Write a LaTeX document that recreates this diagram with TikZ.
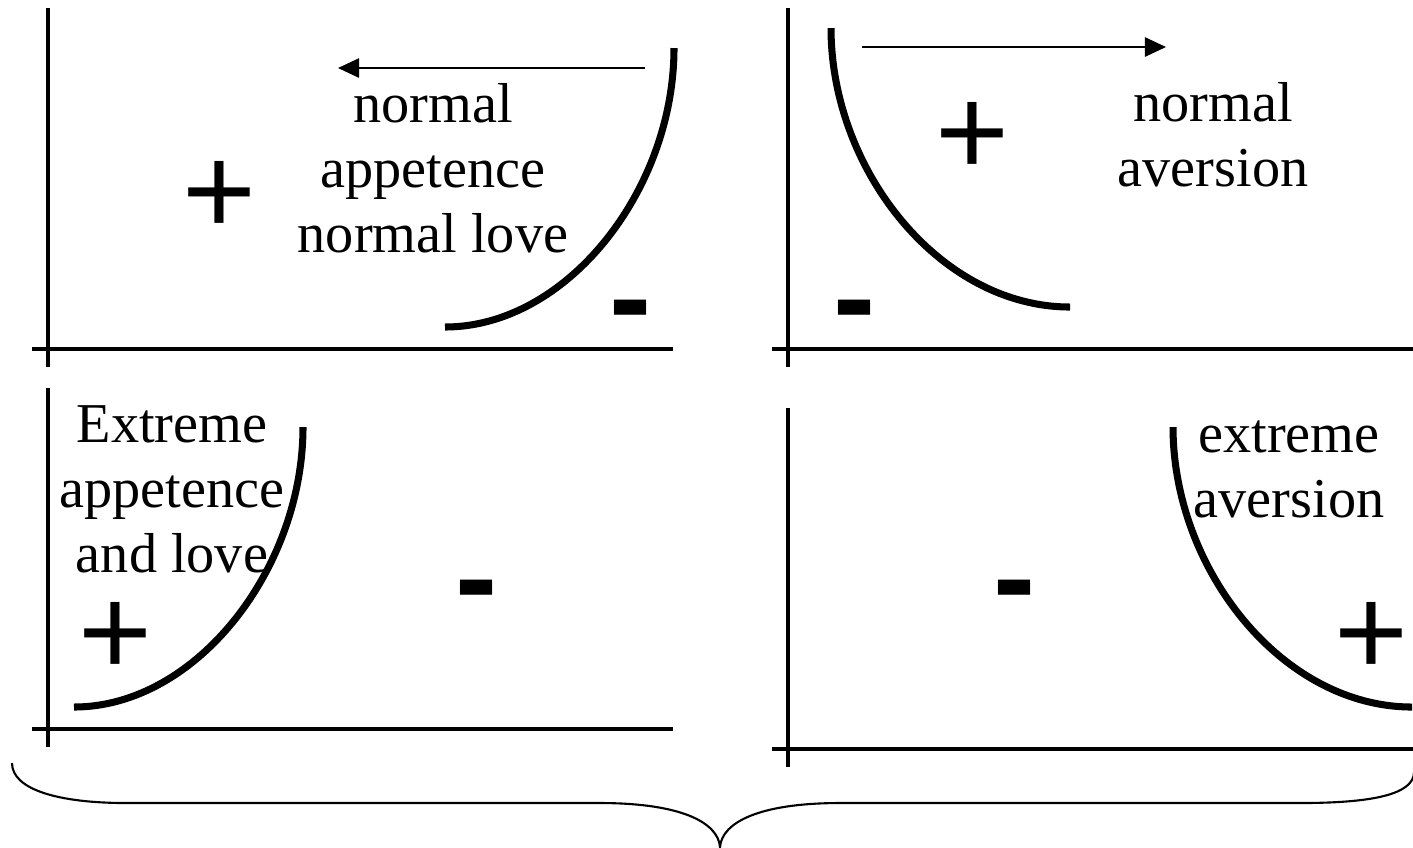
\documentclass[tikz,border=0pt]{standalone}
\usepackage{fontspec}
\setmainfont{Liberation Serif}
\newfontfamily\signfont{Liberation Sans}
\usetikzlibrary{arrows.meta}

\tikzset{
    axis/.style={line width=1.2pt},
    curve/.style={line width=2pt},
    label/.style={align=center, inner sep=0pt, font=\fontsize{16}{18.5}\selectfont},
    sign/.style={inner sep=0pt, font=\signfont\fontsize{36}{36}\selectfont},
    plus/.style={sign, yshift=-2pt},
    minus/.style={sign, font=\signfont\bfseries\fontsize{36}{36}\selectfont, yshift=-5pt},
    shiftarrow/.style={-{Triangle[length=6pt,width=5.5pt]}, line width=0.45pt},
}

\begin{document}
\begin{tikzpicture}[x=0.01cm, y=-0.01cm]
    \useasboundingbox (0,0) rectangle (1413,847);

    % Axes
    \draw[axis] (48,8) -- (48,367);
    \draw[axis] (32,349) -- (673,349);
    \draw[axis] (788,8) -- (788,367);
    \draw[axis] (772,349) -- (1413,349);
    \draw[axis] (48,388) -- (48,747);
    \draw[axis] (32,729) -- (673,729);
    \draw[axis] (788,408) -- (788,767);
    \draw[axis] (772,749) -- (1413,749);

    % Curves
    \draw[curve] (445,327) .. controls (567,327) and (674,190) .. (674,48);
    \draw[curve] (831,28) .. controls (831,170) and (940,307) .. (1070,307);
    \draw[curve] (74,707) .. controls (196,707) and (303,569) .. (303,427);
    \draw[curve] (1173,427) .. controls (1173,569) and (1282,707) .. (1412,707);

    % Arrows
    \coordinate (tl-start) at (645,68);
    \coordinate (tl-end) at (338,68);
    \draw[shiftarrow] (tl-start) -- (tl-end);
    \coordinate (tr-start) at (862,47);
    \coordinate (tr-end) at (1166,47);
    \draw[shiftarrow] (tr-start) -- (tr-end);

    % Labels
    \node[label] (normal-appetence) at (433,168) {normal\\appetence\\normal love};
    \node[label] (normal-aversion) at (1213,135) {normal\\aversion};
    \node[label] (extreme-appetence) at (172,489) {Extreme\\appetence\\and love};
    \node[label] (extreme-aversion) at (1289,469) {extreme\\aversion};

    % Signs
    \node[plus] (tl-plus) at (219,191) {+};
    \node[minus] (tl-minus) at (631,303) {-};
    \node[plus] (tr-plus) at (972,132) {+};
    \node[minus] (tr-minus) at (855,303) {-};
    \node[plus] (bl-plus) at (115,632) {+};
    \node[minus] (bl-minus) at (477,583) {-};
    \node[plus] (br-plus) at (1371,632) {+};
    \node[minus] (br-minus) at (1015,583) {-};

    % Brace
    \draw[line width=0.6pt] (12,763) .. controls (12,790) and (60,803) .. (126,803)
        -- (600,803) .. controls (680,803) and (718,822) .. (720,847)
        .. controls (722,822) and (760,803) .. (840,803)
        -- (1300,803) .. controls (1370,803) and (1414,795) .. (1414,772);

\end{tikzpicture}
\end{document}
